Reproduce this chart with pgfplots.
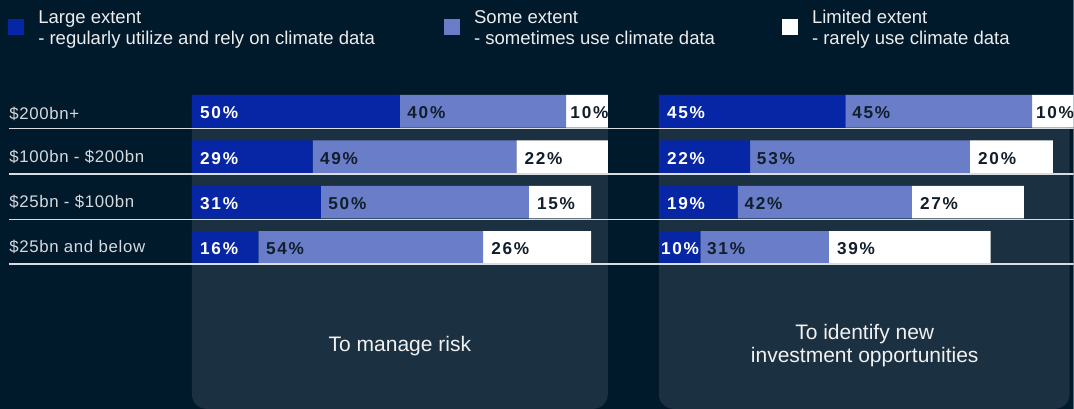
\documentclass[border=0pt]{standalone}
\usepackage{pgfplots}
\pgfplotsset{compat=1.18}
\usepackage{fontspec}
\setmainfont{Liberation Sans}
\newfontfamily\barfont[LetterSpace=10]{Liberation Sans}
\newfontfamily\rowfont[LetterSpace=4]{Liberation Sans}
\definecolor{bg}{HTML}{011A2B}
\definecolor{panelc}{HTML}{1B3040}
\definecolor{cA}{HTML}{0626A6}
\definecolor{cB}{HTML}{6A7DC9}
\definecolor{cC}{HTML}{FFFFFF}
\definecolor{darktxt}{HTML}{111E2B}
\definecolor{rowtxt}{HTML}{D5DADF}
\definecolor{linec}{HTML}{D8DDE2}
\pgfplotsset{
  panelaxis/.style={scale only axis, hide axis, height=136.2pt,
    xmin=0, xmax=100, ymin=-0.5, ymax=3.5, anchor=south west, clip=false},
  lbl/.style={draw=none, mark=none, point meta=explicit symbolic,
    nodes near coords={\pgfplotspointmeta\%},
    every node near coord/.append style={anchor=base west, inner sep=0pt,
      xshift=#1, yshift=-5.6pt, text=darktxt,
      font=\fontsize{12.9}{15}\selectfont\barfont\bfseries}},
}
\begin{document}
\begin{tikzpicture}
\begin{scope}[x=0.75pt, y=-0.75pt, shift={(0pt,306.75pt)}]
  \path[use as bounding box] (0,0) rectangle (1074,409);
  \clip (0,0) rectangle (1074,409);
  \fill[bg] (0,0) rectangle (1074,409);
  \fill[panelc, rounded corners=11pt] (192,95) rectangle (608,409);
  \fill[panelc, rounded corners=11pt] (659,95) rectangle (1070,409);
\end{scope}

% ---- left panel bars
\begin{axis}[panelaxis, width=312pt, at={(144pt,104.1pt)},
  xbar stacked, bar width=24.4pt]
  \addplot[fill=cA, draw=none] coordinates {(50,3) (29,2) (31,1) (16,0)};
  \addplot[fill=cB, draw=none] coordinates {(40,3) (49,2) (50,1) (54,0)};
  \addplot[fill=cC, draw=none] coordinates {(10,3) (22,2) (15,1) (26,0)};
\end{axis}
% ---- right panel bars
\begin{axis}[panelaxis, width=311.25pt, at={(494.25pt,104.1pt)},
  xbar stacked, bar width=24.4pt]
  \addplot[fill=cA, draw=none] coordinates {(45,3) (22,2) (19,1) (10,0)};
  \addplot[fill=cB, draw=none] coordinates {(45,3) (53,2) (42,1) (31,0)};
  \addplot[fill=cC, draw=none] coordinates {(10,3) (20,2) (27,1) (39,0)};
\end{axis}

\begin{scope}[x=0.75pt, y=-0.75pt, shift={(0pt,306.75pt)}]
  \clip (0,0) rectangle (1074,409);
  \foreach \yy in {128.5,174,219.5,264.3}
    \draw[linec, line width=1.1pt] (9,\yy) -- (1074,\yy);
  % row labels
  \foreach \yy/\t in {120/{\$200bn+}, 163/{\$100bn - \$200bn}, 208/{\$25bn - \$100bn}, 253/{\$25bn and below}}
    \node[anchor=base west, inner sep=0pt, text=rowtxt, font=\fontsize{12.6}{15}\selectfont\rowfont] at (9,\yy) {\t};
  % legend
  \fill[cA] (8,19) rectangle (24,35);
  \fill[cB] (444,19) rectangle (460,35);
  \fill[cC] (782,19) rectangle (798,35);
  \begin{scope}[every node/.style={anchor=base west, inner sep=0pt, text=white!92!bg, font=\fontsize{13.9}{16}\selectfont}]
    \node at (38,23.3) {Large extent};
    \node at (38,45) {- regularly utilize and rely on climate data};
    \node at (474,23.3) {Some extent};
    \node at (474,45) {- sometimes use climate data};
    \node at (812,23.3) {Limited extent};
    \node at (812,45) {- rarely use climate data};
  \end{scope}
  % panel titles
  \begin{scope}[every node/.style={anchor=base, inner sep=0pt, text=white!94!bg, font=\fontsize{15.75}{18}\selectfont}]
    \node at (400,352) {To manage risk};
    \node at (865,340) {To identify new};
    \node at (865,363) {investment opportunities};
  \end{scope}
\end{scope}

% ---- left panel labels
\begin{axis}[panelaxis, width=312pt, at={(144pt,104.1pt)}]
  \addplot[lbl=6pt, every node near coord/.append style={text=white}] table[meta=v, row sep=\\] {x y v\\ 0 3 50\\ 0 2 29\\ 0 1 31\\ 0 0 16\\};
  \addplot[lbl=5.5pt] table[meta=v, row sep=\\] {x y v\\ 50 3 40\\ 29 2 49\\ 31 1 50\\ 16 0 54\\};
  \addplot[lbl=6pt] table[meta=v, row sep=\\] {x y v\\ 78 2 22\\ 81 1 15\\ 70 0 26\\};
  \addplot[lbl=3pt] table[meta=v, row sep=\\] {x y v\\ 90 3 10\\};
\end{axis}
% ---- right panel labels
\begin{axis}[panelaxis, width=311.25pt, at={(494.25pt,104.1pt)}]
  \addplot[lbl=6pt, every node near coord/.append style={text=white}] table[meta=v, row sep=\\] {x y v\\ 0 3 45\\ 0 2 22\\ 0 1 19\\};
  \addplot[lbl=1.5pt, every node near coord/.append style={text=white}] table[meta=v, row sep=\\] {x y v\\ 0 0 10\\};
  \addplot[lbl=5pt] table[meta=v, row sep=\\] {x y v\\ 45 3 45\\ 22 2 53\\ 19 1 42\\ 10 0 31\\};
  \addplot[lbl=6pt] table[meta=v, row sep=\\] {x y v\\ 75 2 20\\ 61 1 27\\ 41 0 39\\};
  \addplot[lbl=2.8pt] table[meta=v, row sep=\\] {x y v\\ 90 3 10\\};
\end{axis}
\end{tikzpicture}
\end{document}
